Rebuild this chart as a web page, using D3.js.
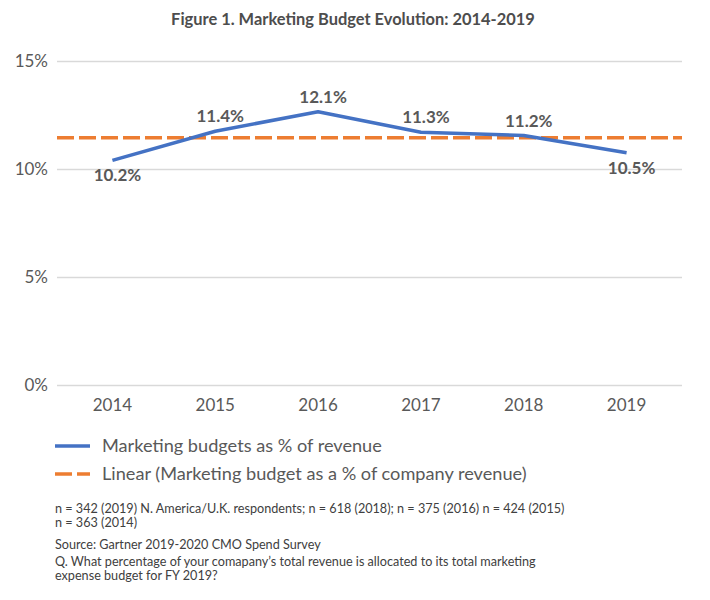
<!DOCTYPE html>
<html>
<head>
<meta charset="utf-8">
<script src="https://cdn.jsdelivr.net/npm/d3@7"></script>
<style>
  html, body { margin: 0; padding: 0; background: #fff; }
  svg { display: block; font-family: Lato, "Open Sans", sans-serif; }
</style>
</head>
<body>
<svg id="chart" width="710" height="600"></svg>
<script>
// ---- data ----
const years = ["2014", "2015", "2016", "2017", "2018", "2019"];
const budgetValues = [10.4, 11.75, 12.65, 11.7, 11.55, 10.75];
const budgetLabels = ["10.2%", "11.4%", "12.1%", "11.3%", "11.2%", "10.5%"];
const labelBelow = [true, false, false, false, false, true];
const trendValues = [11.45, 11.45];
const yTicks = [0, 5, 10, 15];
const titleText = "Figure 1. Marketing Budget Evolution: 2014-2019";
const legendLabels = ["Marketing budgets as % of revenue",
                      "Linear (Marketing budget as a % of company revenue)"];
const footnotes = [
  "n = 342 (2019) N. America/U.K. respondents; n = 618 (2018); n = 375 (2016) n = 424 (2015)",
  "n = 363 (2014)",
  "Source: Gartner 2019-2020 CMO Spend Survey",
  "Q. What percentage of your comapany\u2019s total revenue is allocated to its total marketing",
  "expense budget for FY 2019?"
];

// ---- layout ----
const svg = d3.select("#chart");
const plotLeft = 57, plotRight = 682;
const blue = "#4472C4", orange = "#ED7D31";

const x = d3.scaleBand().domain(years).range([61, 678]);
const y = d3.scaleLinear().domain([0, 15]).range([385, 61]);
const cx = d => x(d) + x.bandwidth() / 2;

// returns font size that makes the given node reach target width
function fitSize(node, target) {
  const w = node.getComputedTextLength();
  const fs = parseFloat(d3.select(node).style("font-size"));
  return w > 0 ? fs * target / w : fs;
}

// title
const title = svg.append("text")
  .attr("x", 353).attr("y", 25)
  .attr("text-anchor", "middle")
  .style("font-size", "15px").style("font-weight", "bold")
  .attr("fill", "#4d4d4d")
  .text(titleText);
title.style("font-size", fitSize(title.node(), 364) + "px");

// gridlines + y labels
const yAxis = d3.axisLeft(y).tickValues(yTicks)
  .tickFormat(d => d + "%")
  .tickSize(-(plotRight - plotLeft)).tickPadding(9);
const gy = svg.append("g").attr("transform", `translate(${plotLeft},0)`).call(yAxis);
gy.select(".domain").remove();
gy.selectAll(".tick line").attr("stroke", "#d9d9d9").attr("stroke-width", 1.5);
gy.selectAll(".tick text")
  .attr("fill", "#595959").style("font-size", "17px")
  .style("font-family", "Lato, sans-serif");

// x axis labels
const xAxis = d3.axisBottom(x).tickSize(0).tickPadding(0);
const gx = svg.append("g").attr("transform", "translate(0,399)").call(xAxis);
gx.select(".domain").remove();
gx.selectAll(".tick text")
  .attr("fill", "#595959").style("font-size", "17px")
  .style("font-family", "Lato, sans-serif");

// trend line
svg.append("line")
  .attr("x1", plotLeft).attr("x2", plotRight)
  .attr("y1", y(trendValues[0])).attr("y2", y(trendValues[1]))
  .attr("stroke", orange).attr("stroke-width", 3.5)
  .attr("stroke-dasharray", "17,5");

// data line
const line = d3.line().x((d, i) => cx(years[i])).y(d => y(d));
svg.append("path")
  .datum(budgetValues)
  .attr("d", line)
  .attr("fill", "none").attr("stroke", blue).attr("stroke-width", 3.5)
  .attr("stroke-linejoin", "round");

// data labels
svg.append("g").selectAll("text")
  .data(budgetValues)
  .join("text")
  .attr("x", (d, i) => cx(years[i]) + 5)
  .attr("y", (d, i) => labelBelow[i] ? y(d) + 21 : y(d) - 9)
  .attr("text-anchor", "middle")
  .style("font-size", "17px").style("font-weight", "bold")
  .attr("fill", "#595959")
  .text((d, i) => budgetLabels[i]);

// legend
const legendY = [446, 474];
const lg = svg.append("g");
lg.append("line").attr("x1", 55).attr("x2", 90).attr("y1", legendY[0]).attr("y2", legendY[0])
  .attr("stroke", blue).attr("stroke-width", 3.5);
lg.append("line").attr("x1", 55).attr("x2", 90).attr("y1", legendY[1]).attr("y2", legendY[1])
  .attr("stroke", orange).attr("stroke-width", 3.5).attr("stroke-dasharray", "17,5");
const legTexts = legendLabels.map((t, i) =>
  lg.append("text").attr("x", 102).attr("y", legendY[i] + 6)
    .style("font-size", "17px").attr("fill", "#595959").text(t));
const legSize = fitSize(legTexts[1].node(), 425);
legTexts.forEach(t => t.style("font-size", legSize + "px"));

// footnotes
const footY = [513, 527, 549, 566, 580];
const footTexts = footnotes.map((t, i) =>
  svg.append("text").attr("x", 55).attr("y", footY[i])
    .style("font-size", "12px").attr("fill", "#404040").text(t));
const footSize = fitSize(footTexts[0].node(), 510);
footTexts.forEach(t => t.style("font-size", footSize + "px"));
</script>
</body>
</html>
